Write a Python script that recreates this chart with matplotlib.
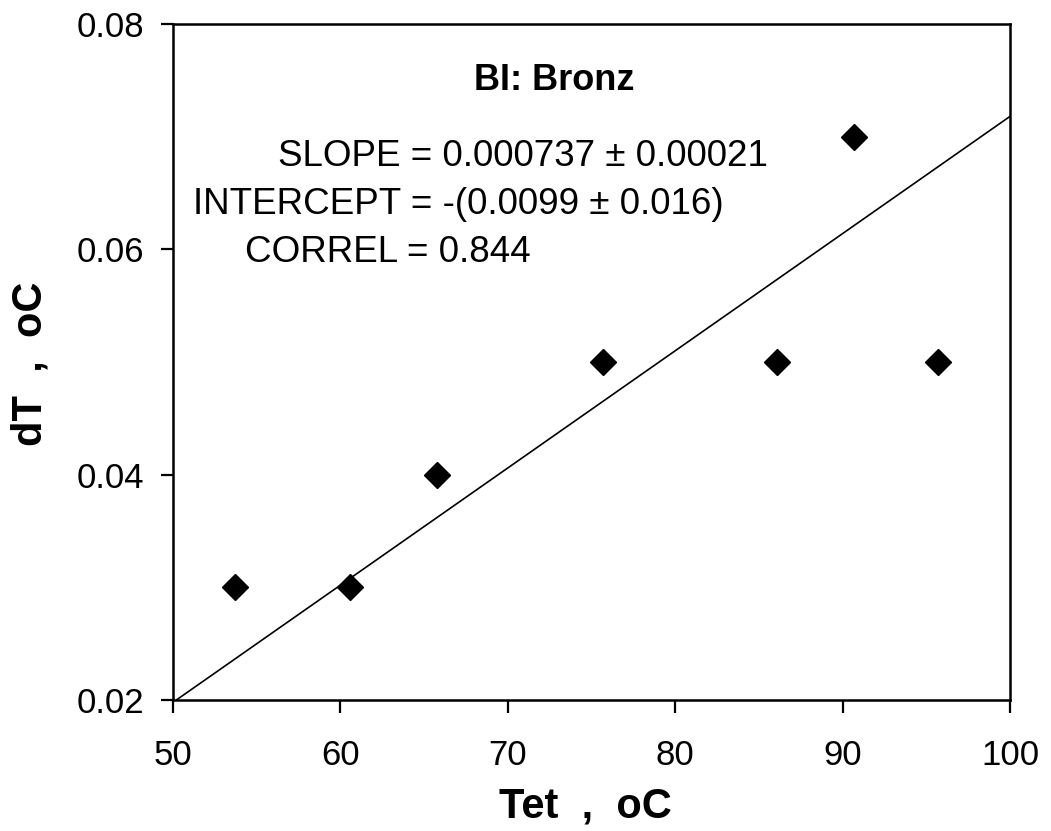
import numpy as np
import matplotlib.pyplot as plt

plt.rcParams['font.family'] = ['Liberation Sans', 'DejaVu Sans']

# measured points
tet = [53.7, 60.6, 65.8, 75.7, 86.1, 90.7, 95.7]
dT = [0.03, 0.03, 0.04, 0.05, 0.05, 0.07, 0.05]

# trend line as drawn in the chart (end points)
line_x = [50.2, 100.0]
line_y = [0.02, 0.0718]

xticks = [50, 60, 70, 80, 90, 100]
yticks = [0.02, 0.04, 0.06, 0.08]

W, H = 1051, 831
fig = plt.figure(figsize=(W / 100, H / 100), dpi=100)
ax = fig.add_axes([173 / W, 131 / H, 837 / W, 676 / H])


def px(x, y):
    # pixel position (from top left) -> figure fraction
    return x / W, 1 - y / H


ax.plot(tet, dT, linestyle='none', marker='D', markersize=13.5, color='black')
ax.plot(line_x, line_y, color='black', linewidth=1.2)

ax.set_xlim(50, 100)
ax.set_ylim(0.02, 0.08)
ax.set_xticks(xticks)
ax.set_yticks(yticks)
ax.set_yticklabels(['%.2f' % v for v in yticks])
ax.tick_params(direction='out', length=9, width=1.6, labelsize=25)
ax.tick_params(axis='y', pad=12)
ax.tick_params(axis='x', pad=19)
for s in ax.spines.values():
    s.set_linewidth(1.8)

fig.text(*px(585, 818), 'Tet  ,  oC', fontsize=30, fontweight='bold',
         ha='center', va='baseline')
fig.text(*px(30, 364), 'dT  ,  oC', fontsize=30, fontweight='bold',
         ha='center', va='center', rotation=90)

fig.text(*px(554, 81), 'BI: Bronz', fontsize=26, fontweight='bold',
         ha='center', va='center')
fig.text(*px(278, 157), 'SLOPE = 0.000737 ± 0.00021', fontsize=26.5,
         ha='left', va='center')
fig.text(*px(193, 205), 'INTERCEPT = -(0.0099 ± 0.016)', fontsize=26.5,
         ha='left', va='center')
fig.text(*px(245, 253), 'CORREL = 0.844', fontsize=26.5,
         ha='left', va='center')

fig.savefig('out.png', dpi=100)
